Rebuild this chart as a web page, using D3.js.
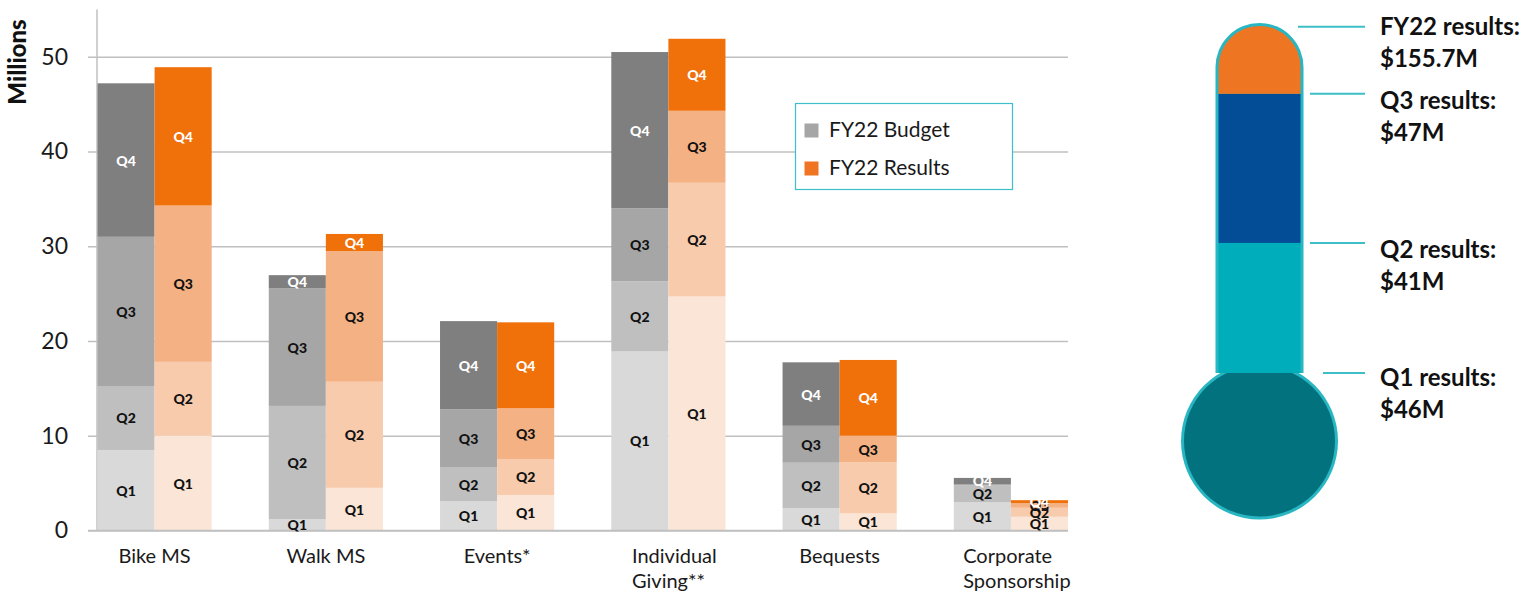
<!DOCTYPE html>
<html>
<head>
<meta charset="utf-8">
<script src="https://cdn.jsdelivr.net/npm/d3@7"></script>
<style>
  html, body { margin: 0; padding: 0; background: #ffffff; }
  svg { display: block; font-family: Lato, "Noto Sans", sans-serif; }
</style>
</head>
<body>
<svg id="chart" width="1540" height="597"></svg>
<script>
// ---------------- DATA ----------------
const categories = ["Bike MS", "Walk MS", "Events*", "Individual Giving**", "Bequests", "Corporate Sponsorship"];
const categoryLines = [["Bike MS"], ["Walk MS"], ["Events*"], ["Individual", "Giving**"], ["Bequests"], ["Corporate", "Sponsorship"]];
const quarters = ["Q1", "Q2", "Q3", "Q4"];

const budgetQ1 = [8.5, 1.2, 3.1, 18.9, 2.35, 3.0];
const budgetQ2 = [6.75, 11.95, 3.6, 7.4, 4.8, 1.75];
const budgetQ3 = [15.75, 12.4, 6.1, 7.7, 3.9, 0.15];
const budgetQ4 = [16.2, 1.4, 9.3, 16.5, 6.7, 0.65];

const resultsQ1 = [10.0, 4.5, 3.75, 24.7, 1.8, 1.45];
const resultsQ2 = [7.8, 11.2, 3.8, 12.0, 5.4, 0.95];
const resultsQ3 = [16.5, 13.8, 5.35, 7.6, 2.8, 0.5];
const resultsQ4 = [14.6, 1.8, 9.07, 7.6, 8.0, 0.3];

const yTicks = [0, 10, 20, 30, 40, 50];
const legendLabels = ["FY22 Budget", "FY22 Results"];

const thermoLabels = ["Q1 results:", "Q2 results:", "Q3 results:", "FY22 results:"];
const thermoValueLabels = ["$46M", "$41M", "$47M", "$155.7M"];
const thermoAmounts = [46, 41, 47, 155.7];

// ---------------- STYLES ----------------
const budgetColors = ["#d9d9d9", "#bfbfbf", "#a6a6a6", "#7f7f7f"];
const resultsColors = ["#fbe5d6", "#f8cbad", "#f4b183", "#f0700a"];
const labelColors = ["#111", "#111", "#111", "#ffffff"];
const gridColor = "#c0c0c0";
const tealLine = "#3cbfc9";

const svg = d3.select("#chart");

// ---------------- SCALES ----------------
const y = d3.scaleLinear().domain([0, 55]).range([530.5, 9.4]);
const x = d3.scaleBand().domain(categories).range([97.5, 1068]).paddingInner(1 / 3).paddingOuter(0);
const sub = d3.scaleBand().domain(["budget", "results"]).range([0, x.bandwidth()]);

// ---------------- GRID / AXES ----------------
const yAxis = d3.axisLeft(y).tickValues(yTicks).tickSize(-(1068 - 88)).tickPadding(20).tickFormat(d3.format("d"));
const gy = svg.append("g").attr("transform", "translate(88,0)").call(yAxis);
gy.select(".domain").remove();
gy.selectAll(".tick line").attr("stroke", gridColor).attr("stroke-width", 1.5);
gy.selectAll(".tick text").attr("font-family", "Lato, sans-serif").attr("font-size", 23).attr("fill", "#1a1a1a");

svg.append("line").attr("x1", 97).attr("x2", 97).attr("y1", y(55)).attr("y2", y(0))
  .attr("stroke", gridColor).attr("stroke-width", 1.5);

svg.append("text")
  .attr("transform", "translate(26,62) rotate(-90)")
  .attr("text-anchor", "middle")
  .attr("font-size", 24).attr("font-weight", 900).attr("fill", "#111")
  .text("Millions");

// ---------------- BARS ----------------
function buildStack(series, kind, colors) {
  const rows = [];
  categories.forEach((c, i) => {
    let base = 0;
    series.forEach((s, q) => {
      rows.push({ cat: c, kind, q, y0: base, y1: base + s[i], v: s[i], color: colors[q] });
      base += s[i];
    });
  });
  return rows;
}
const budgetRows = buildStack([budgetQ1, budgetQ2, budgetQ3, budgetQ4], "budget", budgetColors);
const resultRows = buildStack([resultsQ1, resultsQ2, resultsQ3, resultsQ4], "results", resultsColors);
const allRows = budgetRows.concat(resultRows);

svg.append("g").selectAll("rect").data(allRows).join("rect")
  .attr("x", d => x(d.cat) + sub(d.kind))
  .attr("width", sub.bandwidth())
  .attr("y", d => y(d.y1))
  .attr("height", d => y(d.y0) - y(d.y1))
  .attr("fill", d => d.color);

// baseline
svg.append("line").attr("x1", 88).attr("x2", 1068).attr("y1", y(0)).attr("y2", y(0))
  .attr("stroke", gridColor).attr("stroke-width", 1.5);

// segment labels (drawn quarter by quarter, Q4 last)
const labelRows = allRows.filter(d => d.v >= 0.2).sort((a, b) => a.q - b.q);
svg.append("g").selectAll("text").data(labelRows).join("text")
  .attr("x", d => x(d.cat) + sub(d.kind) + sub.bandwidth() / 2)
  .attr("y", d => y((d.y0 + d.y1) / 2))
  .attr("text-anchor", "middle")
  .attr("dominant-baseline", "central")
  .attr("font-size", 14).attr("font-weight", 900)
  .attr("fill", d => labelColors[d.q])
  .text(d => quarters[d.q]);

// ---------------- CATEGORY LABELS ----------------
categories.forEach((c, i) => {
  const g = svg.append("g");
  const lines = categoryLines[i];
  const texts = lines.map((l, k) => g.append("text")
    .attr("y", 563 + k * 25)
    .attr("font-size", 20).attr("fill", "#1a1a1a")
    .text(l));
  const w = d3.max(texts, t => t.node().getComputedTextLength());
  const cx = x(c) + x.bandwidth() / 2 + (lines.length > 1 ? 6 : 0);
  texts.forEach(t => t.attr("x", cx - w / 2));
});

// ---------------- LEGEND ----------------
const lg = svg.append("g");
lg.append("rect").attr("x", 795.5).attr("y", 103.5).attr("width", 217).attr("height", 86)
  .attr("fill", "#fff").attr("stroke", tealLine).attr("stroke-width", 1.2);
const legendColors = [budgetColors[2], "#f07522"];
legendLabels.forEach((l, i) => {
  lg.append("rect").attr("x", 804.5).attr("y", 123.5 + i * 38).attr("width", 14).attr("height", 14)
    .attr("fill", legendColors[i]);
  lg.append("text").attr("x", 829).attr("y", 137 + i * 38)
    .attr("font-size", 21).attr("fill", "#1a1a1a").text(l);
});

// ---------------- THERMOMETER ----------------
const tScale = d3.scaleLinear().domain([thermoAmounts[0], thermoAmounts[3]]).range([373, 25]);
const cumul = [thermoAmounts[0], thermoAmounts[0] + thermoAmounts[1], thermoAmounts[0] + thermoAmounts[1] + thermoAmounts[2], thermoAmounts[3]];
const cxT = 1259.5, stemW = 88, capR = stemW / 2, bulbR = 78.5, bulbCy = 441;
const topY = tScale(cumul[3]) - 2;
const border = 3;
const stemBottom = tScale(cumul[0]);
const segColors = ["#02737e", "#00adba", "#034d96", "#ee7623"];
const borderColor = "#27b6c2";

function thermoPath(inset, bottom) {
  const l = cxT - capR + inset, r = cxT + capR - inset, rr = capR - inset;
  const t = topY + inset;
  const p = d3.path();
  p.moveTo(l, t + rr);
  p.arc(cxT, t + rr, rr, Math.PI, 2 * Math.PI);
  p.lineTo(r, bottom);
  p.lineTo(l, bottom);
  p.closePath();
  return p.toString();
}
const defs = svg.append("defs");
defs.append("clipPath").attr("id", "stemClip").append("path").attr("d", thermoPath(border, stemBottom));

const tg = svg.append("g");
// bulb first
tg.append("circle").attr("cx", cxT).attr("cy", bulbCy).attr("r", bulbR).attr("fill", borderColor);
tg.append("circle").attr("cx", cxT).attr("cy", bulbCy).attr("r", bulbR - border).attr("fill", segColors[0]);
// stem on top, ending flat where the bulb starts
tg.append("path").attr("d", thermoPath(0, stemBottom)).attr("fill", borderColor);
const segTop = [cumul[0], cumul[1], cumul[2], cumul[3] + 20];
const segBottom = [cumul[0], cumul[0], cumul[1], cumul[2]];
tg.append("g").attr("clip-path", "url(#stemClip)")
  .selectAll("rect").data([1, 2, 3]).join("rect")
  .attr("x", cxT - capR).attr("width", stemW)
  .attr("y", i => tScale(segTop[i]))
  .attr("height", i => tScale(segBottom[i]) - tScale(segTop[i]))
  .attr("fill", i => segColors[i]);

// leader lines and labels
const leaderStart = [1323, 1310, 1310, 1298];
const labelOffsets = [13, 15, 15, 8];
cumul.forEach((v, i) => {
  const ly = tScale(v) + (i === 3 ? 1.7 : 0);
  svg.append("line").attr("x1", leaderStart[i]).attr("x2", 1365).attr("y1", ly).attr("y2", ly)
    .attr("stroke", tealLine).attr("stroke-width", 2);
  svg.append("text").attr("x", 1380).attr("y", ly + labelOffsets[i])
    .attr("font-size", 24).attr("font-weight", "bold").attr("fill", "#111").text(thermoLabels[i]);
  svg.append("text").attr("x", 1380).attr("y", ly + labelOffsets[i] + 32)
    .attr("font-size", 24).attr("font-weight", "bold").attr("fill", "#111").text(thermoValueLabels[i]);
});
</script>
</body>
</html>
